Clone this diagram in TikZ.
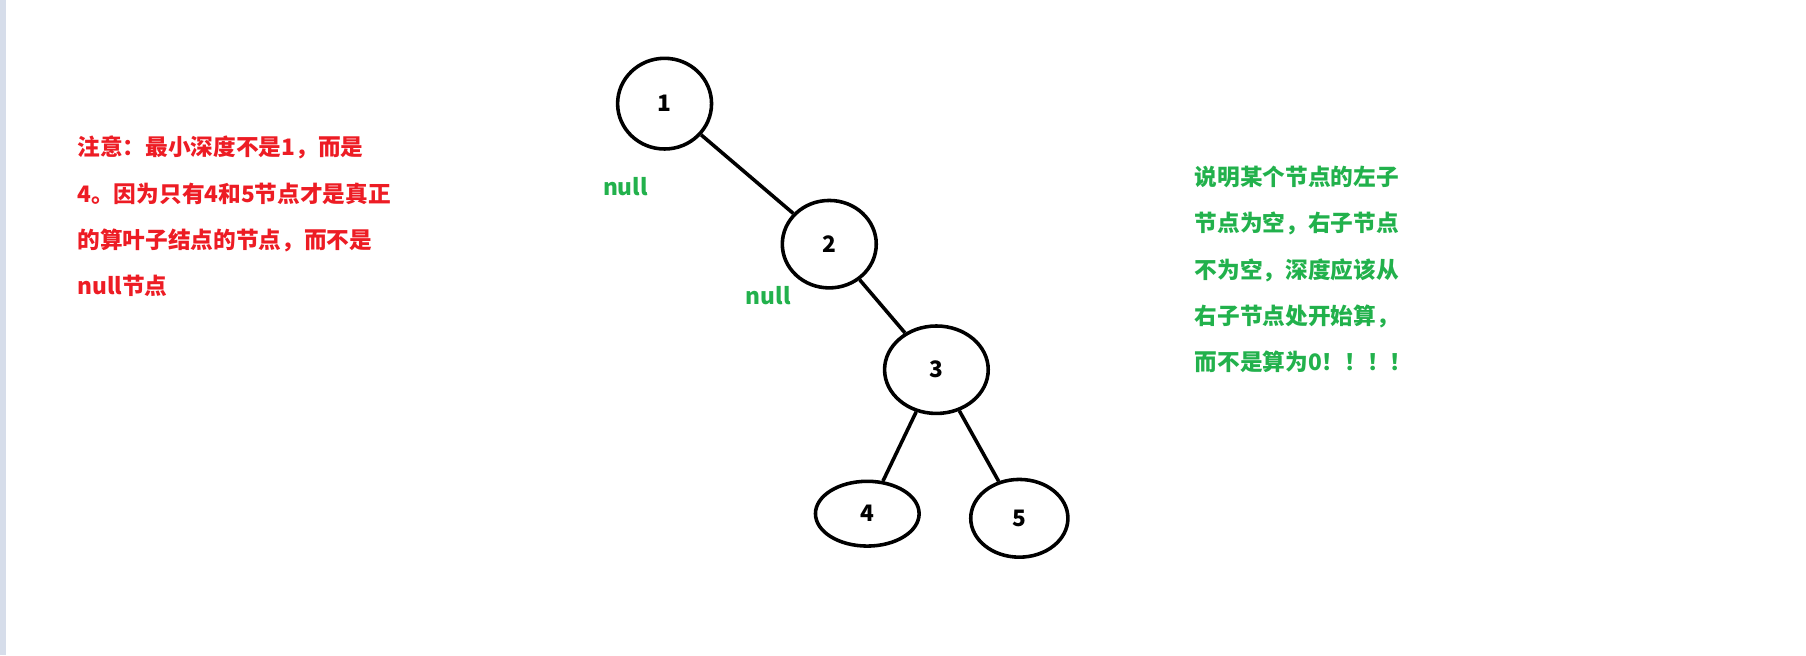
\documentclass[tikz,border=0pt]{standalone}
\usepackage{fontspec}
\setmainfont{Noto Sans CJK SC}
\usetikzlibrary{shapes.geometric}
\definecolor{notered}{RGB}{237,28,36}
\definecolor{notegreen}{RGB}{34,177,76}
\definecolor{edgestrip}{RGB}{214,221,234}
\tikzset{
	treenode/.style={shape=ellipse,draw=black,line width=2.2pt,inner sep=0pt,font=\fontsize{14}{14}\selectfont\bfseries},
	nulllabel/.style={text=notegreen,font=\fontsize{14}{14}\selectfont\bfseries},
	notetext/.style={anchor=north west,align=left,inner sep=0pt,font=\fontsize{14}{28.6}\selectfont\bfseries}
}
\begin{document}
\begin{tikzpicture}[x=0.025cm,y=-0.025cm]
	\useasboundingbox (0,0) rectangle (1568,569);
	\fill[edgestrip] (0,0) rectangle (5,569);
	
	\node[treenode,minimum width=58,minimum height=56] (n1) at (577, 90)  {1};
	\node[treenode,minimum width=58,minimum height=54] (n2) at (720, 212) {2};
	\node[treenode,minimum width=64,minimum height=54] (n3) at (813, 321) {3};
	\node[treenode,minimum width=64,minimum height=40] (n4) at (753, 446) {4};
	\node[treenode,minimum width=60,minimum height=48] (n5) at (885, 450) {5};
	
	\node[nulllabel] (null1) at (543, 162) {null};
	\node[nulllabel] (null2) at (667, 257) {null};
	
	\path[-, line width=2.2pt] (n1) edge (n2);
	\path[-, line width=2.2pt] (n2) edge (n3);
	\path[-, line width=2.2pt] (n3) edge (n4);
	\path[-, line width=2.2pt] (n3) edge (n5);
	
	\node[notetext,text=notered] (leftnote) at (67, 118) {注意：最小深度不是1，而是\\4。因为只有4和5节点才是真正\\的算叶子结点的节点，而不是\\null节点};
	\node[notetext,text=notegreen] (rightnote) at (1037, 144) {说明某个节点的左子\\节点为空，右子节点\\不为空，深度应该从\\右子节点处开始算，\\而不是算为0！！！！};
	
\end{tikzpicture}
\end{document}
